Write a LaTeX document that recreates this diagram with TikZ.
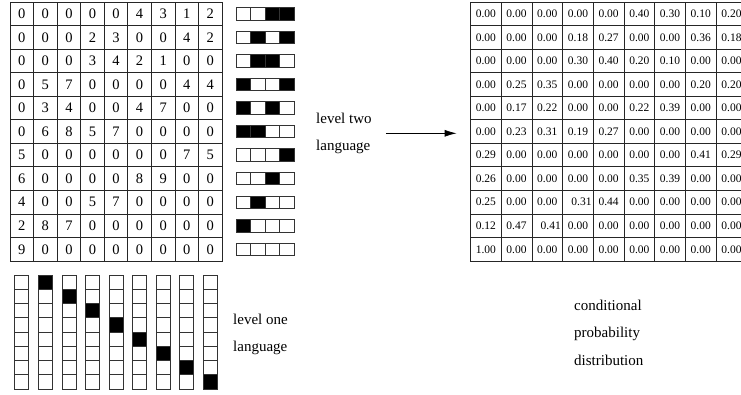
\documentclass[tikz,border=0pt]{standalone}
\usepackage{fontspec}
\setmainfont{Liberation Serif}
\usetikzlibrary{arrows.meta}
\colorlet{c0}{white}
\colorlet{c1}{black}
\begin{document}
\begin{tikzpicture}[x=1pt,y=-1pt,
  gcell/.style={draw=black!85,line width=0.8pt,minimum width=23.56pt,minimum height=23.55pt,inner sep=0pt,font=\fontsize{14.5}{14.5}\selectfont},
  pcell/.style={draw=black!85,line width=0.8pt,minimum width=30.7pt,minimum height=23.55pt,inner sep=0pt,font=\fontsize{11.5}{12}\selectfont},
  bcell/.style={draw=black!80,line width=0.8pt,minimum width=14.5pt,minimum height=12.5pt,inner sep=0pt},
  vcell/.style={draw=black!80,line width=0.8pt,minimum width=14pt,minimum height=14.25pt,inner sep=0pt},
  lbl/.style={font=\fontsize{15}{27.5}\selectfont,align=left,anchor=west,inner sep=0pt},
  conn/.style={-{Latex[length=12pt,width=7pt]},line width=0.8pt}
]
\useasboundingbox (0,0) rectangle (741,394);
\clip (0,0) rectangle (741,394);
% left grid
\foreach \row [count=\r] in {{0,0,0,0,0,4,3,1,2},{0,0,0,2,3,0,0,4,2},{0,0,0,3,4,2,1,0,0},{0,5,7,0,0,0,0,4,4},{0,3,4,0,0,4,7,0,0},{0,6,8,5,7,0,0,0,0},{5,0,0,0,0,0,0,7,5},{6,0,0,0,0,8,9,0,0},{4,0,0,5,7,0,0,0,0},{2,8,7,0,0,0,0,0,0},{9,0,0,0,0,0,0,0,0}}{
  \foreach \v [count=\c] in \row {
    \node[gcell] (g-\r-\c) at ({10+(\c-0.5)*23.56},{2+(\r-0.5)*23.55}) {\v};
  }
}
% level two bars
\foreach \pat [count=\r] in {{0,0,1,1},{0,1,0,1},{0,1,1,0},{1,0,0,1},{1,0,1,0},{1,1,0,0},{0,0,0,1},{0,0,1,0},{0,1,0,0},{1,0,0,0},{0,0,0,0}}{
  \foreach \v [count=\c] in \pat {
    \node[bcell,fill=c\v] (b-\r-\c) at ({236+(\c-0.5)*14.5},{2+(\r-0.5)*23.55}) {};
  }
}
% level one columns
\foreach \j in {1,...,9}{
  \foreach \i in {1,...,8}{
    \pgfmathtruncatemacro\k{(\i==\j-1)}
    \node[vcell,fill=c\k] (v-\j-\i) at ({10+(\j-0.5)*23.56},{275+(\i-0.5)*14.25}) {};
  }
}
% probability table
\foreach \row [count=\r] in {
{0.00,0.00,0.00,0.00,0.00,0.40,0.30,0.10,0.20},
{0.00,0.00,0.00,0.18,0.27,0.00,0.00,0.36,0.18},
{0.00,0.00,0.00,0.30,0.40,0.20,0.10,0.00,0.00},
{0.00,0.25,0.35,0.00,0.00,0.00,0.00,0.20,0.20},
{0.00,0.17,0.22,0.00,0.00,0.22,0.39,0.00,0.00},
{0.00,0.23,0.31,0.19,0.27,0.00,0.00,0.00,0.00},
{0.29,0.00,0.00,0.00,0.00,0.00,0.00,0.41,0.29},
{0.26,0.00,0.00,0.00,0.00,0.35,0.39,0.00,0.00},
{0.25,0.00,0.00,{\hspace{7pt}0.31},0.44,0.00,0.00,0.00,0.00},
{0.12,0.47,{\hspace{7pt}0.41},0.00,0.00,0.00,0.00,0.00,0.00},
{1.00,0.00,0.00,0.00,0.00,0.00,0.00,0.00,0.00}}{
  \foreach \v [count=\c] in \row {
    \node[pcell] (p-\r-\c) at ({470.5+(\c-0.5)*30.7},{2+(\r-0.5)*23.55}) {\v};
  }
}
% labels
\node[lbl] (l2) at (316,133.3) {level two\\language};
\node[lbl] (l1) at (233,334.5) {level one\\language};
\node[lbl] (cp) at (574,332.7) {conditional\\probability\\distribution};
\draw[conn,shorten <=14pt,shorten >=13.5pt] (l2.east) -- (l2.east -| p-6-1.west);
\end{tikzpicture}
\end{document}
